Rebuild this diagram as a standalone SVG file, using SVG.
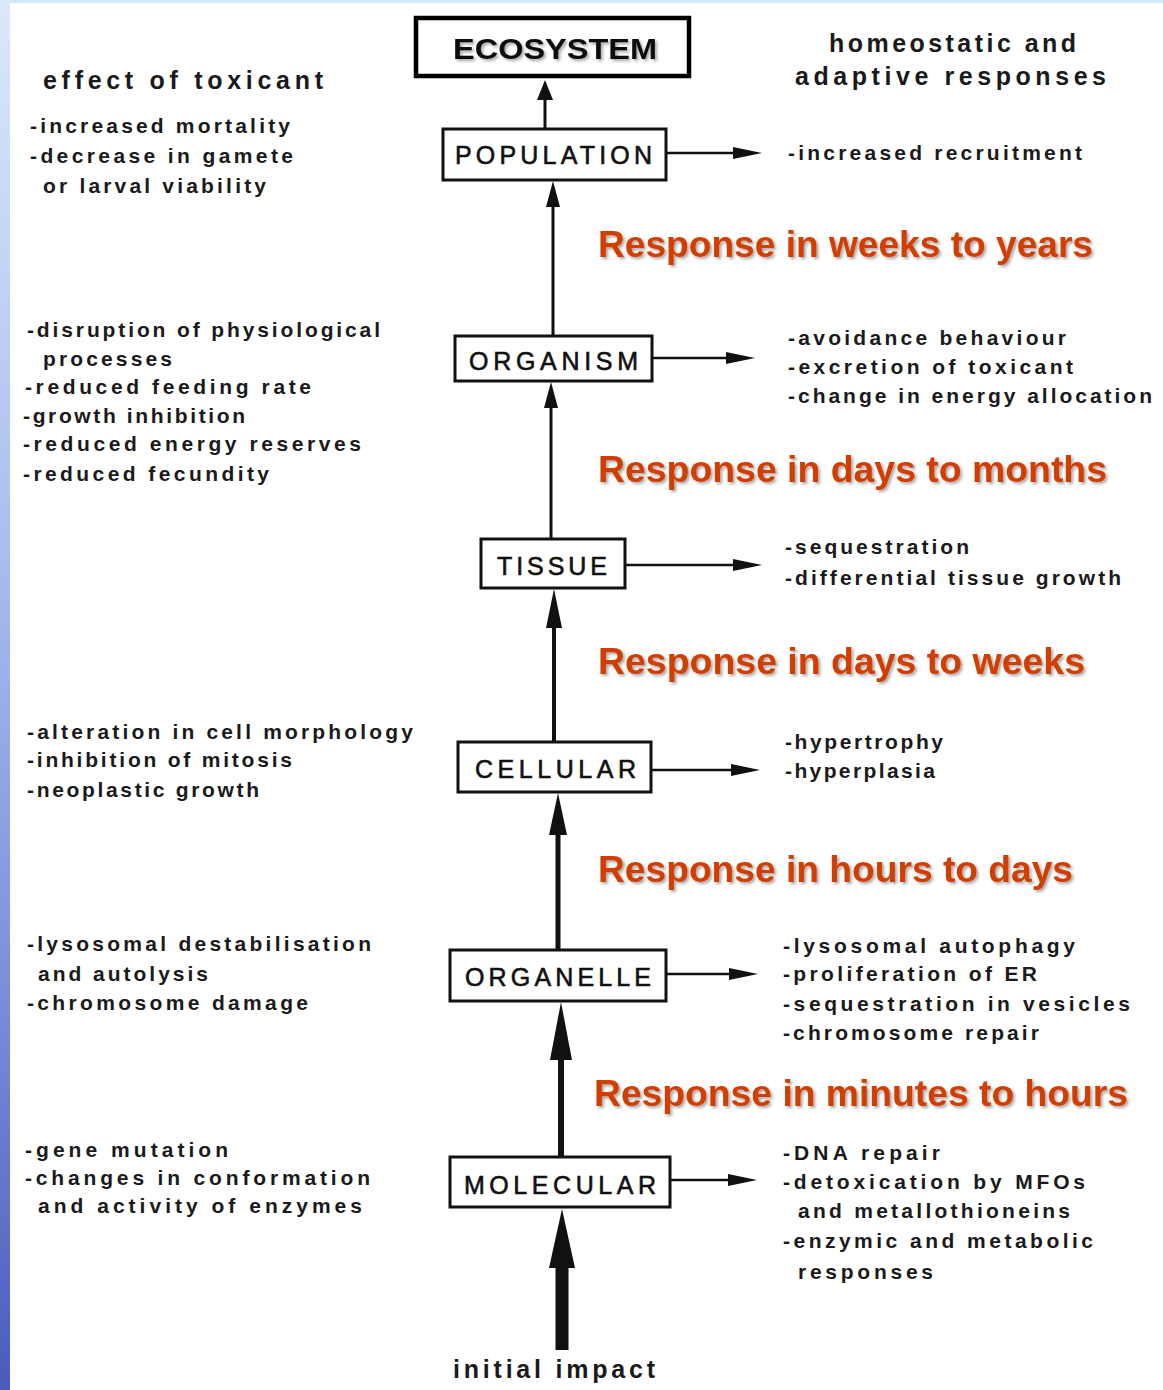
<svg xmlns="http://www.w3.org/2000/svg" width="1163" height="1390" viewBox="0 0 1163 1390">
<defs>
<linearGradient id="strip" x1="0" y1="0" x2="0" y2="1">
<stop offset="0" stop-color="#dbe8fb"/>
<stop offset="0.4" stop-color="#a9bdef"/>
<stop offset="0.7" stop-color="#7d90dc"/>
<stop offset="1" stop-color="#4a5bbd"/>
</linearGradient>
<filter id="shadow" x="-5%" y="-20%" width="110%" height="140%">
<feDropShadow dx="2" dy="2" stdDeviation="1.5" flood-color="#000" flood-opacity="0.35"/>
</filter>
<style>
.box{fill:#fff;stroke:#111;stroke-width:3}
.eco{fill:#fff;stroke:#000;stroke-width:4.5}
.lbl{font-family:"Liberation Sans",Arial,sans-serif;font-size:25px;fill:#111;stroke:#111;stroke-width:0.6}
.ecot{font-family:"Liberation Sans",Arial,sans-serif;font-size:29px;font-weight:bold;fill:#111}
.t{font-family:"Liberation Sans",Arial,sans-serif;font-size:21px;font-weight:bold;fill:#1a1a1a}
.h{font-family:"Liberation Sans",Arial,sans-serif;font-size:25px;font-weight:bold;fill:#1a1a1a}
.red{font-family:"Liberation Sans",Arial,sans-serif;font-size:36px;font-weight:bold;fill:#d23c04}
.ln{stroke:#111;fill:none}
.hd{fill:#111}
</style>
</defs>
<rect x="0" y="0" width="1163" height="1390" fill="#fff"/>
<rect x="0" y="0" width="1163" height="3" fill="#d6e6fa"/>
<rect x="0" y="0" width="10" height="1390" fill="url(#strip)"/>

<g id="connectors">
<line class="ln" x1="545" y1="129" x2="545" y2="98" stroke-width="3"/>
<polygon class="hd" points="545,80 537,100 553,100"/>
<line class="ln" x1="553" y1="336" x2="553" y2="204" stroke-width="3"/>
<polygon class="hd" points="553,181 546,207 560,207"/>
<line class="ln" x1="551" y1="539" x2="551" y2="405" stroke-width="3"/>
<polygon class="hd" points="551,382 544,408 558,408"/>
<line class="ln" x1="554" y1="742" x2="554" y2="625" stroke-width="4"/>
<polygon class="hd" points="554,589 546,628 562,628"/>
<line class="ln" x1="558" y1="950" x2="558" y2="832" stroke-width="5"/>
<polygon class="hd" points="558,793 549,835 567,835"/>
<line class="ln" x1="561" y1="1157" x2="561" y2="1056" stroke-width="6"/>
<polygon class="hd" points="561,1002 550,1060 572,1060"/>
<line class="ln" x1="562" y1="1350" x2="562" y2="1264" stroke-width="13"/>
<polygon class="hd" points="562,1209 549,1268 575,1268"/>

<line class="ln" x1="666" y1="153" x2="736" y2="153" stroke-width="2.5"/>
<polygon class="hd" points="762,153 733,147 733,159"/>
<line class="ln" x1="652" y1="358" x2="729" y2="358" stroke-width="2.5"/>
<polygon class="hd" points="755,358 726,352 726,364"/>
<line class="ln" x1="625" y1="565" x2="736" y2="565" stroke-width="2.5"/>
<polygon class="hd" points="762,565 733,559 733,571"/>
<line class="ln" x1="651" y1="770" x2="734" y2="770" stroke-width="2.5"/>
<polygon class="hd" points="760,770 731,764 731,776"/>
<line class="ln" x1="666" y1="974" x2="732" y2="974" stroke-width="2.5"/>
<polygon class="hd" points="758,974 729,968 729,980"/>
<line class="ln" x1="670" y1="1180" x2="731" y2="1180" stroke-width="2.5"/>
<polygon class="hd" points="757,1180 728,1174 728,1186"/>
</g>

<g id="ecosystem">
<rect class="eco" x="416" y="18" width="273" height="58"/>
<text class="ecot" x="453" y="59" textLength="204" lengthAdjust="spacingAndGlyphs" filter="url(#shadow)">ECOSYSTEM</text>
</g>
<g id="population">
<rect class="box" x="443" y="129" width="223" height="51"/>
<text class="lbl" x="455" y="164" textLength="197" lengthAdjust="spacing">POPULATION</text>
</g>
<g id="organism">
<rect class="box" x="455" y="336" width="197" height="45"/>
<text class="lbl" x="469" y="370" textLength="169" lengthAdjust="spacing">ORGANISM</text>
</g>
<g id="tissue">
<rect class="box" x="481" y="539" width="144" height="49"/>
<text class="lbl" x="497" y="575" textLength="110" lengthAdjust="spacing">TISSUE</text>
</g>
<g id="cellular">
<rect class="box" x="458" y="742" width="193" height="50"/>
<text class="lbl" x="475" y="778" textLength="161" lengthAdjust="spacing">CELLULAR</text>
</g>
<g id="organelle">
<rect class="box" x="450" y="950" width="216" height="51"/>
<text class="lbl" x="465" y="986" textLength="186" lengthAdjust="spacing">ORGANELLE</text>
</g>
<g id="molecular">
<rect class="box" x="450" y="1157" width="220" height="50"/>
<text class="lbl" x="464" y="1194" textLength="192" lengthAdjust="spacing">MOLECULAR</text>
</g>
<g id="initial-impact">
<text class="h" x="453" y="1378" textLength="202" lengthAdjust="spacing">initial impact</text>
</g>

<g id="left-texts">
<text class="h" x="43" y="89" textLength="280" lengthAdjust="spacing">effect of toxicant</text>
<text class="t" x="30" y="133" textLength="260" lengthAdjust="spacing">-increased mortality</text>
<text class="t" x="30" y="163" textLength="263" lengthAdjust="spacing">-decrease in gamete</text>
<text class="t" x="43" y="193" textLength="223" lengthAdjust="spacing">or larval viability</text>

<text class="t" x="27" y="337" textLength="353" lengthAdjust="spacing">-disruption of physiological</text>
<text class="t" x="43" y="366" textLength="129" lengthAdjust="spacing">processes</text>
<text class="t" x="25" y="394" textLength="286" lengthAdjust="spacing">-reduced feeding rate</text>
<text class="t" x="23" y="423" textLength="222" lengthAdjust="spacing">-growth inhibition</text>
<text class="t" x="23" y="451" textLength="338" lengthAdjust="spacing">-reduced energy reserves</text>
<text class="t" x="23" y="481" textLength="246" lengthAdjust="spacing">-reduced fecundity</text>

<text class="t" x="27" y="739" textLength="386" lengthAdjust="spacing">-alteration in cell morphology</text>
<text class="t" x="27" y="767" textLength="265" lengthAdjust="spacing">-inhibition of mitosis</text>
<text class="t" x="27" y="797" textLength="232" lengthAdjust="spacing">-neoplastic growth</text>

<text class="t" x="27" y="951" textLength="344" lengthAdjust="spacing">-lysosomal destabilisation</text>
<text class="t" x="38" y="981" textLength="170" lengthAdjust="spacing">and autolysis</text>
<text class="t" x="27" y="1010" textLength="281" lengthAdjust="spacing">-chromosome damage</text>

<text class="t" x="25" y="1157" textLength="203" lengthAdjust="spacing">-gene mutation</text>
<text class="t" x="25" y="1185" textLength="345" lengthAdjust="spacing">-changes in conformation</text>
<text class="t" x="38" y="1213" textLength="324" lengthAdjust="spacing">and activity of enzymes</text>
</g>

<g id="right-texts">
<text class="h" x="829" y="52" textLength="247" lengthAdjust="spacing">homeostatic and</text>
<text class="h" x="795" y="85" textLength="311" lengthAdjust="spacing">adaptive responses</text>
<text class="t" x="788" y="160" textLength="294" lengthAdjust="spacing">-increased recruitment</text>

<text class="t" x="788" y="345" textLength="278" lengthAdjust="spacing">-avoidance behaviour</text>
<text class="t" x="788" y="374" textLength="285" lengthAdjust="spacing">-excretion of toxicant</text>
<text class="t" x="788" y="403" textLength="364" lengthAdjust="spacing">-change in energy allocation</text>

<text class="t" x="785" y="554" textLength="184" lengthAdjust="spacing">-sequestration</text>
<text class="t" x="785" y="585" textLength="336" lengthAdjust="spacing">-differential tissue growth</text>

<text class="t" x="785" y="749" textLength="158" lengthAdjust="spacing">-hypertrophy</text>
<text class="t" x="785" y="778" textLength="150" lengthAdjust="spacing">-hyperplasia</text>

<text class="t" x="783" y="953" textLength="292" lengthAdjust="spacing">-lysosomal autophagy</text>
<text class="t" x="783" y="981" textLength="254" lengthAdjust="spacing">-proliferation of ER</text>
<text class="t" x="783" y="1011" textLength="347" lengthAdjust="spacing">-sequestration in vesicles</text>
<text class="t" x="783" y="1040" textLength="256" lengthAdjust="spacing">-chromosome repair</text>

<text class="t" x="783" y="1160" textLength="157" lengthAdjust="spacing">-DNA repair</text>
<text class="t" x="783" y="1189" textLength="302" lengthAdjust="spacing">-detoxication by MFOs</text>
<text class="t" x="798" y="1218" textLength="272" lengthAdjust="spacing">and metallothioneins</text>
<text class="t" x="783" y="1248" textLength="310" lengthAdjust="spacing">-enzymic and metabolic</text>
<text class="t" x="798" y="1279" textLength="135" lengthAdjust="spacing">responses</text>
</g>

<g id="timescales" filter="url(#shadow)">
<text class="red" x="598" y="257" textLength="495" lengthAdjust="spacingAndGlyphs">Response in weeks to years</text>
<text class="red" x="598" y="482" textLength="509" lengthAdjust="spacingAndGlyphs">Response in days to months</text>
<text class="red" x="598" y="674" textLength="487" lengthAdjust="spacingAndGlyphs">Response in days to weeks</text>
<text class="red" x="598" y="882" textLength="475" lengthAdjust="spacingAndGlyphs">Response in hours to days</text>
<text class="red" x="594" y="1106" textLength="534" lengthAdjust="spacingAndGlyphs">Response in minutes to hours</text>
</g>
</svg>
